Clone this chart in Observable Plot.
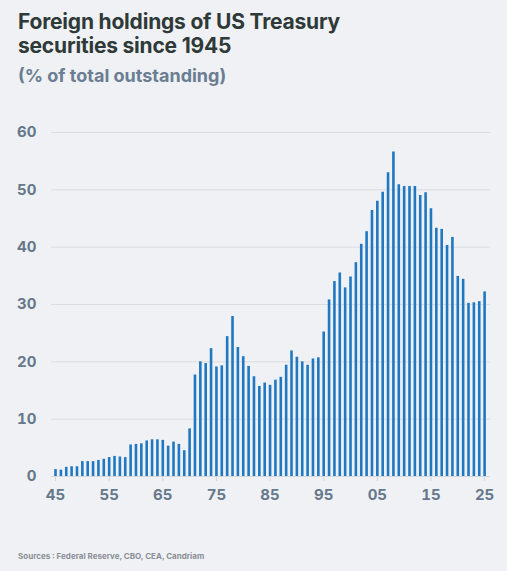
<!DOCTYPE html>
<html>
<head>
<meta charset="utf-8">
<script src="https://cdn.jsdelivr.net/npm/d3@7"></script>
<script src="https://cdn.jsdelivr.net/npm/@observablehq/plot@0.6"></script>
<style>
  body { margin: 0; background: #eff1f4; font-family: Inter, "Open Sans", sans-serif; }
  #wrap { width: 507px; height: 571px; position: relative; overflow: hidden; }
  h1 { margin: 0; position: absolute; left: 18px; top: 10px; font-size: 21px; line-height: 24px; font-weight: 700; color: #2e3938; letter-spacing: -0.2px; }
  h2 { margin: 0; position: absolute; left: 18px; top: 64px; font-size: 18px; line-height: 24px; font-weight: 700; color: #6a7d92; }
  #chart { position: absolute; left: 0; top: 105px; }
  .src { position: absolute; left: 18px; top: 551px; font-size: 8px; font-weight: 700; color: #8a8f96; }
</style>
</head>
<body>
<div id="wrap">
  <h1>Foreign holdings of US Treasury<br>securities since 1945</h1>
  <h2>(% of total outstanding)</h2>
  <div id="chart"></div>
  <div class="src">Sources : Federal Reserve, CBO, CEA, Candriam</div>
</div>
<script>
// share of Treasury securities held abroad, 1945-2025
let years = d3.range(1945, 2026);
let share = [
  1.2, 1.1, 1.6, 1.7, 1.7, 2.6, 2.6, 2.6, 2.8, 3.0,
  3.3, 3.5, 3.4, 3.3, 5.5, 5.6, 5.7, 6.2, 6.4, 6.4,
  6.3, 5.3, 6.0, 5.6, 4.5, 8.3, 17.7, 20.0, 19.7, 22.3,
  19.1, 19.3, 24.4, 27.9, 22.5, 20.9, 19.2, 17.4, 15.7, 16.3,
  15.9, 16.8, 17.3, 19.4, 21.9, 20.8, 20.0, 19.4, 20.5, 20.7,
  25.2, 30.8, 34.0, 35.5, 32.9, 34.8, 37.3, 40.5, 42.7, 46.4,
  48.0, 49.6, 53.0, 56.6, 50.9, 50.6, 50.6, 50.6, 49.0, 49.5,
  46.7, 43.3, 43.1, 40.3, 41.7, 34.9, 34.4, 30.2, 30.3, 30.5,
  32.2
];
let yTicks = [0, 10, 20, 30, 40, 50, 60];
let xTicks = [1945, 1955, 1965, 1975, 1985, 1995, 2005, 2015, 2025];

let data = years.map((y, i) => ({ year: y, value: share[i] }));

let chart = Plot.plot({
  width: 507,
  height: 420,
  marginTop: 27,
  marginBottom: 49,
  marginLeft: 51,
  marginRight: 17,
  style: { background: "transparent", fontFamily: "Inter, sans-serif", fontSize: "15px", fontWeight: 700, color: "#66788b" },
  x: { domain: [1944.25, 2026.1], label: null },
  y: { domain: [0, 60], label: null },
  marks: [
    Plot.gridY(yTicks, { stroke: "#d9dde2", strokeOpacity: 1, strokeWidth: 1 }),
    Plot.ruleY([0], { stroke: "#d3d7dc" }),
    Plot.axisY(yTicks, { tickSize: 0, tickPadding: 15, label: null, fill: "#66788b" }),
    Plot.axisX(xTicks, {
      tickSize: 5, tickPadding: 8, stroke: "#d3d7dc", label: null, fill: "#66788b",
      tickFormat: (d) => String(d).slice(2)
    }),
    Plot.ruleX(data, { x: "year", y1: 0, y2: "value", stroke: "#1f78c1", strokeWidth: 2.6 })
  ]
});
d3.select("#chart").append(() => chart);
</script>
</body>
</html>
